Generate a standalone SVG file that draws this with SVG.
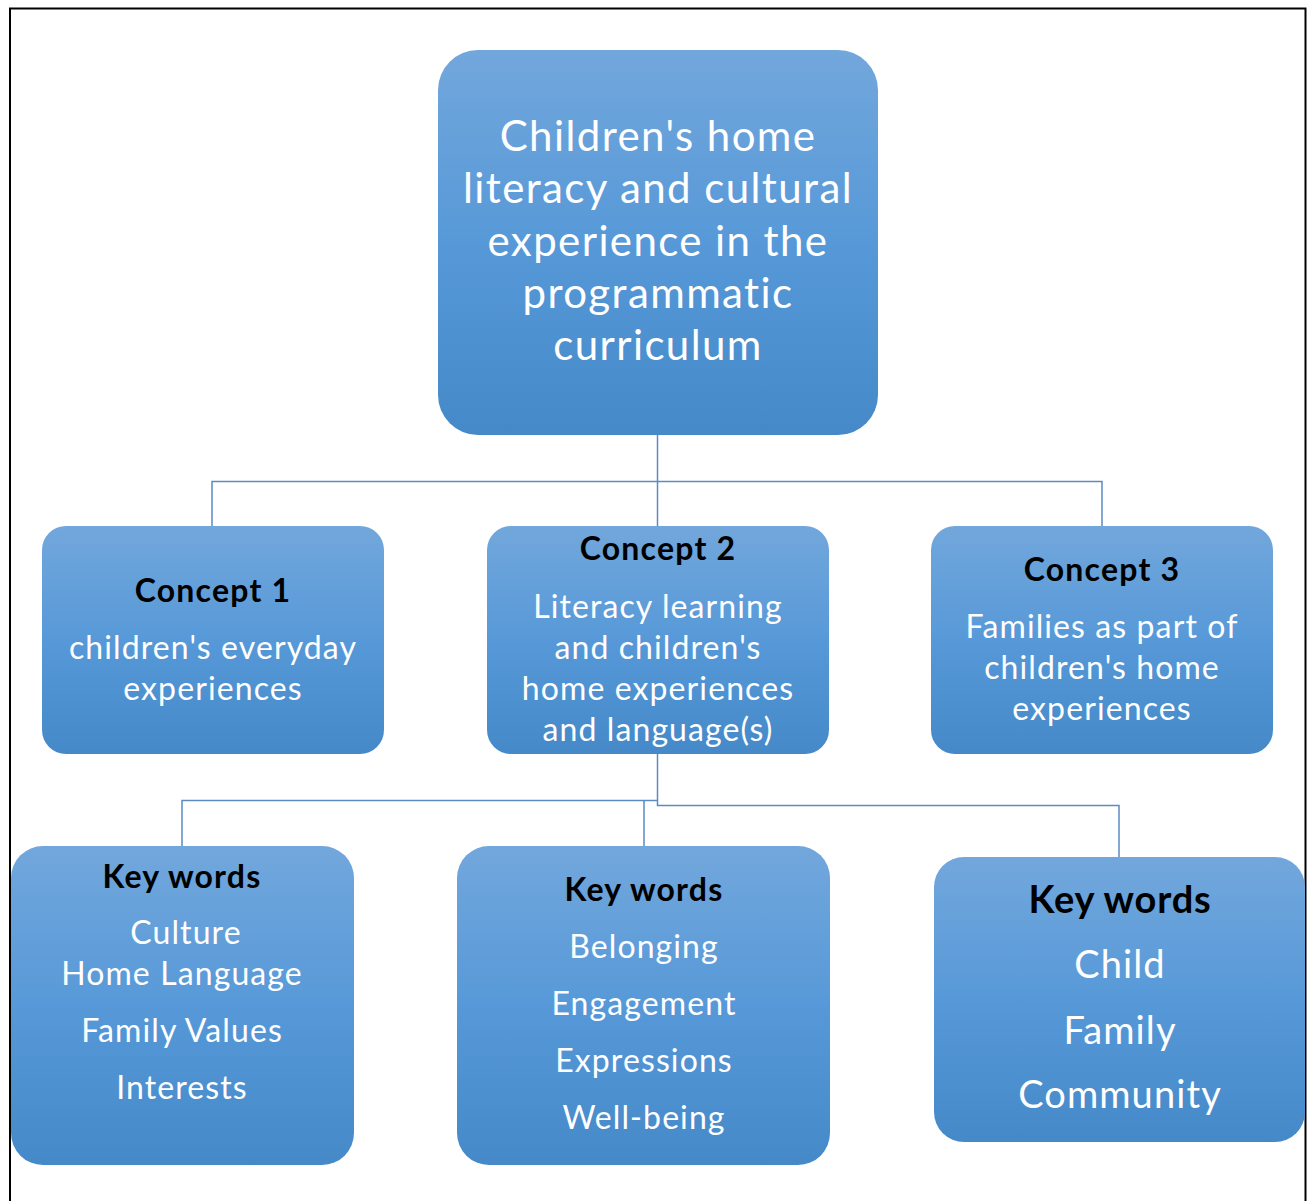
<svg xmlns="http://www.w3.org/2000/svg" width="1307" height="1201" viewBox="0 0 1307 1201">
<defs>
<linearGradient id="g" x1="0" y1="0" x2="0" y2="1">
<stop offset="0" stop-color="#72a7dc"/>
<stop offset="0.5" stop-color="#5799d8"/>
<stop offset="1" stop-color="#4589c8"/>
</linearGradient>
<style>
.box{fill:url(#g);}
text{font-family:Lato,"Liberation Sans",sans-serif;text-anchor:middle;}
.w{fill:#ffffff;}
.b{fill:#000000;font-weight:bold;}
.s{font-size:32px;letter-spacing:1.1px;}
.bs{font-size:32px;letter-spacing:1.2px;}
.l{font-size:38px;letter-spacing:1.1px;}
.bl{font-size:38px;letter-spacing:0.8px;}
.t{font-size:42px;letter-spacing:1.4px;}
.conn{fill:none;stroke:#5b8bc2;stroke-width:1.5;}
</style>
</defs>
<rect x="0" y="0" width="1307" height="1201" fill="#ffffff"/>
<rect x="10" y="8.5" width="1295.5" height="1210" fill="none" stroke="#000000" stroke-width="2"/>
<g id="connectors">
<path class="conn" d="M657.5 435 V526 M212 526 V481.5 H1102 V526"/>
<path class="conn" d="M657.5 754 V805.5 H1119 V857 M657.5 800.5 H182 V846 M644 800.5 V846"/>
</g>
<g id="root">
<rect class="box" x="438" y="50" width="440" height="385" rx="40"/>
<text class="w t"><tspan x="658" y="151">Children's home</tspan><tspan x="658" y="203">literacy and cultural</tspan><tspan x="658" y="256">experience in the</tspan><tspan x="658" y="308">programmatic</tspan><tspan x="658" y="360">curriculum</tspan></text>
</g>
<g id="concept1">
<rect class="box" x="42" y="526" width="342" height="228" rx="24"/>
<text class="b bs" x="213" y="602">Concept 1</text>
<text class="w s"><tspan x="213" y="659">children's everyday</tspan><tspan x="213" y="700">experiences</tspan></text>
</g>
<g id="concept2">
<rect class="box" x="487" y="526" width="342" height="228" rx="24"/>
<text class="b bs" x="658" y="560">Concept 2</text>
<text class="w s"><tspan x="658" y="618">Literacy learning</tspan><tspan x="658" y="659">and children's</tspan><tspan x="658" y="700">home experiences</tspan><tspan x="658" y="741">and language(s)</tspan></text>
</g>
<g id="concept3">
<rect class="box" x="931" y="526" width="342" height="228" rx="24"/>
<text class="b bs" x="1102" y="581">Concept 3</text>
<text class="w s"><tspan x="1102" y="638">Families as part of</tspan><tspan x="1102" y="679">children's home</tspan><tspan x="1102" y="720">experiences</tspan></text>
</g>
<g id="keywords1">
<rect class="box" x="11" y="846" width="343" height="319" rx="32"/>
<text class="b bs" x="182" y="888">Key words</text>
<text class="w s"><tspan x="186" y="944">Culture</tspan><tspan x="182" y="985">Home Language</tspan><tspan x="182" y="1042">Family Values</tspan><tspan x="182" y="1099">Interests</tspan></text>
</g>
<g id="keywords2">
<rect class="box" x="457" y="846" width="373" height="319" rx="32"/>
<text class="b bs" x="644" y="901">Key words</text>
<text class="w s"><tspan x="644" y="958">Belonging</tspan><tspan x="644" y="1015">Engagement</tspan><tspan x="644" y="1072">Expressions</tspan><tspan x="644" y="1129">Well-being</tspan></text>
</g>
<g id="keywords3">
<rect class="box" x="934" y="857" width="371" height="285" rx="30"/>
<text class="b bl" x="1120" y="913">Key words</text>
<text class="w l"><tspan x="1120" y="978">Child</tspan><tspan x="1120" y="1044">Family</tspan><tspan x="1120" y="1108">Community</tspan></text>
</g>
</svg>
